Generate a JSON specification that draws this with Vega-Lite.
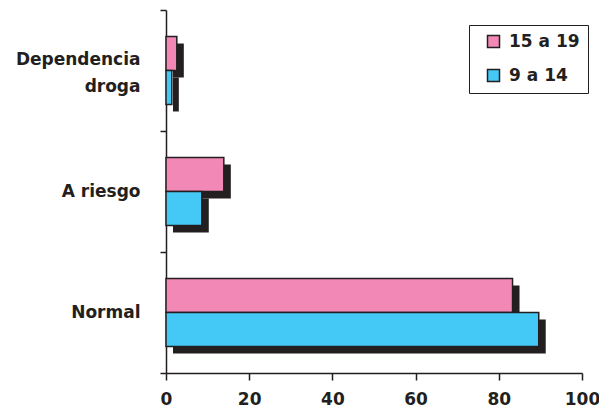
{
  "$schema": "https://vega.github.io/schema/vega-lite/v6.json",
  "width": 416,
  "height": 363,
  "autosize": {"type": "none"},
  "padding": {"left": 166, "top": 10, "right": 17, "bottom": 38},
  "background": "white",
  "config": {"view": {"stroke": null}, "font": "DejaVu Sans"},
  "data": {
    "values": [
      {"categoria": "Dependencia|droga", "grupo": "15 a 19", "valor": 2.6},
      {"categoria": "Dependencia|droga", "grupo": "9 a 14", "valor": 1.4},
      {"categoria": "A riesgo", "grupo": "15 a 19", "valor": 13.9},
      {"categoria": "A riesgo", "grupo": "9 a 14", "valor": 8.6},
      {"categoria": "Normal", "grupo": "15 a 19", "valor": 83.3},
      {"categoria": "Normal", "grupo": "9 a 14", "valor": 89.6}
    ]
  },
  "encoding": {
    "y": {
      "field": "categoria",
      "type": "nominal",
      "sort": null,
      "scale": {"paddingInner": 0, "paddingOuter": 0},
      "axis": {
        "title": null,
        "grid": false,
        "domainColor": "#231f20",
        "domainWidth": 1.5,
        "tickColor": "#231f20",
        "tickWidth": 1.5,
        "tickBand": "extent",
        "tickSize": 6,
        "labelFontSize": 17,
        "labelFontWeight": "bold",
        "labelColor": "#231f20",
        "labelPadding": 20,
        "labelLineHeight": 27,
        "labelOffset": {"condition": {"test": "datum.value === 'Dependencia|droga'", "value": -11}, "value": 0},
        "labelExpr": "datum.value ? split(datum.value, '|') : ''"
      }
    },
    "x": {
      "field": "valor",
      "type": "quantitative",
      "scale": {"domain": [0, 100]},
      "axis": {
        "title": null,
        "grid": false,
        "values": [0, 20, 40, 60, 80, 100],
        "labelFlush": false,
        "labelOverlap": false,
        "domainColor": "#231f20",
        "domainWidth": 1.5,
        "tickColor": "#231f20",
        "tickWidth": 1.5,
        "tickSize": 7,
        "labelPadding": 11,
        "labelFontSize": 17,
        "labelFontWeight": "bold",
        "labelColor": "#231f20"
      }
    }
  },
  "resolve": {"scale": {"yOffset": "independent"}},
  "layer": [
    {
      "mark": {"type": "bar", "color": "#231f20", "xOffset": 7, "x2Offset": 4},
      "encoding": {
        "yOffset": {
          "field": "grupo",
          "type": "nominal",
          "sort": ["15 a 19", "9 a 14"],
          "scale": {"paddingInner": 0, "paddingOuter": 0.78, "align": 0.632}
        }
      }
    },
    {
      "mark": {"type": "bar", "stroke": "#231f20", "strokeWidth": 1.5},
      "encoding": {
        "yOffset": {
          "field": "grupo",
          "type": "nominal",
          "sort": ["15 a 19", "9 a 14"],
          "scale": {"paddingInner": 0, "paddingOuter": 0.78}
        },
        "fill": {
          "field": "grupo",
          "type": "nominal",
          "sort": ["15 a 19", "9 a 14"],
          "scale": {"domain": ["15 a 19", "9 a 14"], "range": ["#F288B5", "#44C8F5"]},
          "legend": {
            "title": "\u00a0",
            "titleOrient": "right",
            "titleFontSize": 17,
            "titlePadding": 0,
            "orient": "none",
            "legendX": 303,
            "legendY": 15,
            "direction": "vertical",
            "strokeColor": "#231f20",
            "fillColor": "white",
            "padding": 8,
            "symbolOffset": 8,
            "symbolType": "square",
            "symbolSize": 144,
            "symbolStrokeColor": "#231f20",
            "symbolStrokeWidth": 1.5,
            "labelFontSize": 17,
            "labelFontWeight": "bold",
            "labelColor": "#231f20",
            "labelOffset": 7,
            "rowPadding": 15
          }
        }
      }
    }
  ]
}
